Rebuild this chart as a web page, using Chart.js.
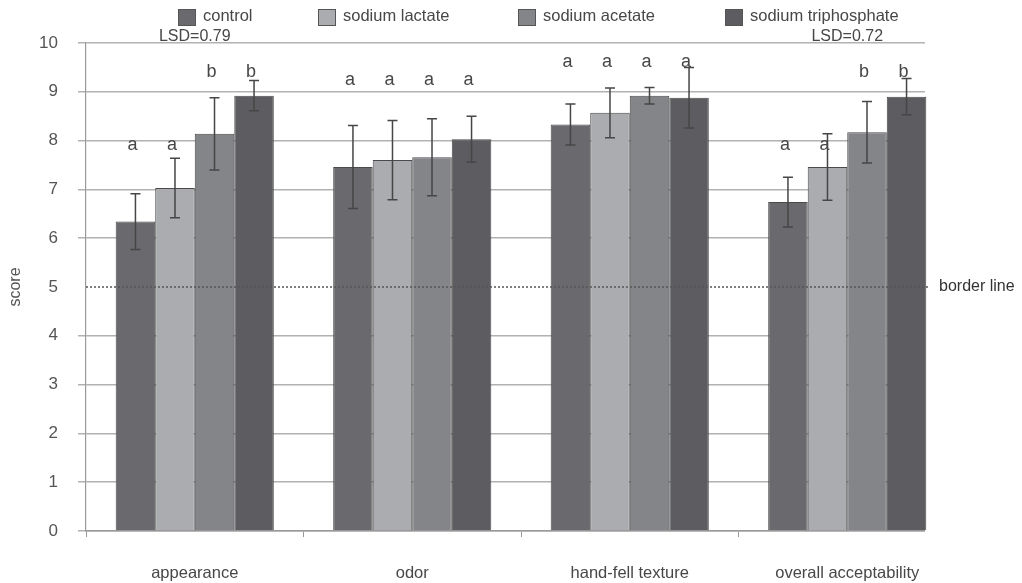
<!DOCTYPE html>
<html>
<head>
<meta charset="utf-8">
<script src="https://cdn.jsdelivr.net/npm/chart.js@4/dist/chart.umd.min.js"></script>
<style>
  html, body { margin: 0; padding: 0; background: #fff; }
  #wrap { width: 1022px; height: 583px; }
</style>
</head>
<body>
<div id="wrap"><canvas id="c" width="1022" height="583"></canvas></div>
<script>
// Sensory scores (mean ± SD) per attribute and treatment
const categories = ['appearance', 'odor', 'hand-fell texture', 'overall acceptability'];
const seriesNames = ['control', 'sodium lactate', 'sodium acetate', 'sodium triphosphate'];

const control            = [6.34, 7.46, 8.33, 6.74];
const sodiumLactate      = [7.03, 7.60, 8.57, 7.46];
const sodiumAcetate      = [8.14, 7.66, 8.92, 8.17];
const sodiumTriphosphate = [8.92, 8.03, 8.88, 8.90];

const controlSD      = [0.57, 0.85, 0.42, 0.51];
const lactateSD      = [0.61, 0.81, 0.51, 0.68];
const acetateSD      = [0.74, 0.79, 0.17, 0.63];
const triphosphateSD = [0.31, 0.47, 0.62, 0.37];

// significance letters for each treatment, per attribute
const controlLetters      = ['a', 'a', 'a', 'a'];
const lactateLetters      = ['a', 'a', 'a', 'a'];
const acetateLetters      = ['b', 'a', 'a', 'b'];
const triphosphateLetters = ['b', 'a', 'a', 'b'];
// score level at which the letters sit (lower pair / upper pair)
const letterLevelLow  = [7.9, 9.25, 9.6, 7.9];
const letterLevelHigh = [9.4, 9.25, 9.6, 9.4];

const lsdValues = [0.79, null, null, 0.72];
const yTicks = [0, 1, 2, 3, 4, 5, 6, 7, 8, 9, 10];
const borderLineScore = 5;

const values  = [control, sodiumLactate, sodiumAcetate, sodiumTriphosphate];
const sds     = [controlSD, lactateSD, acetateSD, triphosphateSD];
const letters = [controlLetters, lactateLetters, acetateLetters, triphosphateLetters];
const colors  = ['#6a6a6e', '#aaacaf', '#838588', '#5d5d61'];

const FONT = "'Liberation Sans', Arial, sans-serif";
const TEXT = '#474747';

const overlay = {
  id: 'overlay',
  beforeDatasetsDraw(chart) {
    // the frame stops short of the right edge to leave room for the border line label
    const { ctx, chartArea } = chart;
    ctx.save();
    ctx.fillStyle = '#fff';
    ctx.fillRect(925, chartArea.top - 4, 1022 - 925, chartArea.bottom - chartArea.top + 16);
    ctx.restore();
  },
  afterDatasetsDraw(chart) {
    const { ctx } = chart;
    const ys = chart.scales.y, xs = chart.scales.x;
    ctx.save();

    // error bars
    ctx.strokeStyle = '#464646';
    ctx.lineWidth = 1.5;
    values.forEach((vals, i) => {
      const meta = chart.getDatasetMeta(i);
      vals.forEach((v, j) => {
        const x = meta.data[j].x;
        const t = ys.getPixelForValue(v + sds[i][j]);
        const b = ys.getPixelForValue(v - sds[i][j]);
        ctx.beginPath();
        ctx.moveTo(x, t); ctx.lineTo(x, b);
        ctx.moveTo(x - 5, t); ctx.lineTo(x + 5, t);
        ctx.moveTo(x - 5, b); ctx.lineTo(x + 5, b);
        ctx.stroke();
      });
    });

    // border line at score 5
    const yb = ys.getPixelForValue(borderLineScore);
    ctx.strokeStyle = '#555';
    ctx.lineWidth = 1.3;
    ctx.setLineDash([2, 2]);
    ctx.beginPath();
    ctx.moveTo(chart.chartArea.left, yb);
    ctx.lineTo(930, yb);
    ctx.stroke();
    ctx.setLineDash([]);
    ctx.fillStyle = '#333';
    ctx.font = `16px ${FONT}`;
    ctx.textAlign = 'left';
    ctx.textBaseline = 'middle';
    ctx.fillText('border line', 939, yb);

    // significance letters
    ctx.fillStyle = TEXT;
    ctx.font = `18px ${FONT}`;
    ctx.textAlign = 'center';
    letters.forEach((ls, i) => {
      const meta = chart.getDatasetMeta(i);
      ls.forEach((l, j) => {
        const lvl = i < 2 ? letterLevelLow[j] : letterLevelHigh[j];
        ctx.fillText(l, meta.data[j].x - 3, ys.getPixelForValue(lvl));
      });
    });

    // LSD labels
    ctx.font = `16px ${FONT}`;
    lsdValues.forEach((v, j) => {
      if (v === null) return;
      ctx.fillText('LSD=' + v.toFixed(2), xs.getPixelForValue(j), 36.5);
    });

    // legend
    const legendX = [178, 318, 518, 725];
    ctx.font = `16.5px ${FONT}`;
    ctx.textAlign = 'left';
    seriesNames.forEach((n, i) => {
      ctx.fillStyle = colors[i];
      ctx.fillRect(legendX[i], 9, 18, 17);
      ctx.strokeStyle = '#555';
      ctx.lineWidth = 1;
      ctx.strokeRect(legendX[i] + 0.5, 9.5, 17, 16);
      ctx.fillStyle = TEXT;
      ctx.fillText(n, legendX[i] + 25, 16.5);
    });
    ctx.restore();
  }
};

new Chart(document.getElementById('c'), {
  type: 'bar',
  data: {
    labels: categories,
    datasets: seriesNames.map((n, i) => ({
      label: n,
      data: values[i],
      backgroundColor: colors[i],
      borderColor: '#4a4a4a',
      borderWidth: 1,
      categoryPercentage: 0.727,
      barPercentage: 1
    }))
  },
  options: {
    responsive: false,
    animation: false,
    layout: { padding: { top: 43, right: 66, left: 0, bottom: 0 } },
    plugins: { legend: { display: false }, tooltip: { enabled: false } },
    scales: {
      x: {
        grid: { display: true, drawOnChartArea: false, drawTicks: true, tickLength: 6, color: '#9a9a9a', lineWidth: 1 },
        border: { color: '#9a9a9a', width: 1.5 },
        ticks: { color: TEXT, font: { family: FONT, size: 16.5 }, padding: 27, maxRotation: 0 },
        afterFit(s) { s.height = 52; }
      },
      y: {
        min: 0, max: 10,
        afterBuildTicks(s) { s.ticks = yTicks.map(v => ({ value: v })); },
        ticks: { color: '#555', font: { family: FONT, size: 17 }, padding: 20 },
        grid: {
          color: c => (c.tick && c.tick.value === borderLineScore) ? 'rgba(0,0,0,0)' : '#b2b2b2',
          lineWidth: 1.5, tickLength: 8
        },
        border: { color: '#9a9a9a', width: 1.2 },
        title: { display: true, text: 'score', color: '#555', font: { family: FONT, size: 16 }, padding: { top: 6, bottom: 0 } },
        afterFit(s) { s.width = 86; }
      }
    }
  },
  plugins: [overlay]
});
</script>
</body>
</html>
